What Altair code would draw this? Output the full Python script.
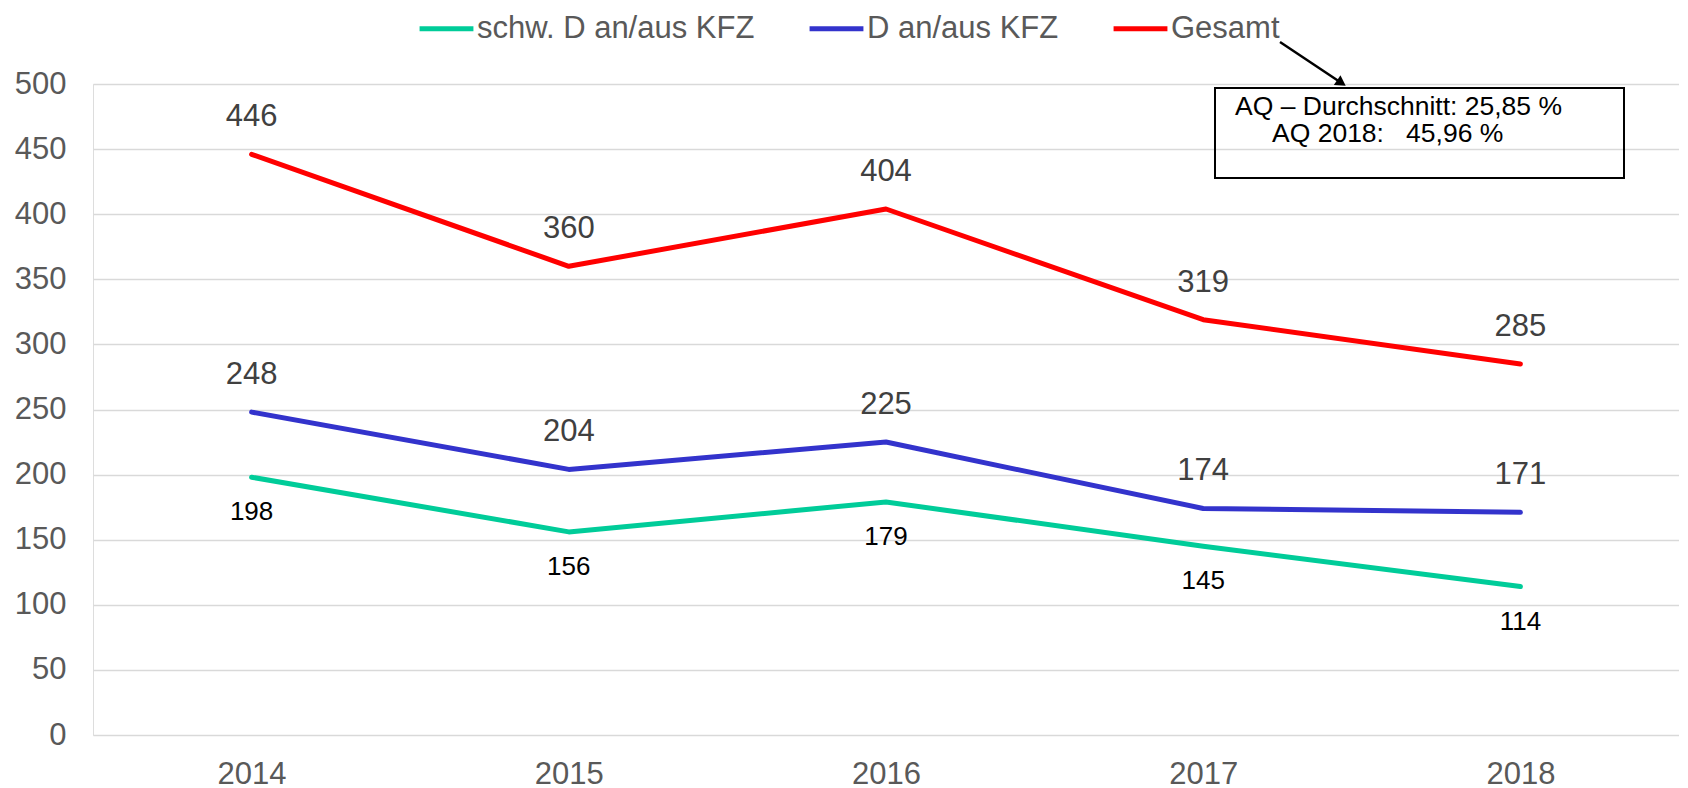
import altair as alt
import pandas as pd

years = ["2014", "2015", "2016", "2017", "2018"]
schw = [198, 156, 179, 145, 114]
d_kfz = [248, 204, 225, 174, 171]
gesamt = [446, 360, 404, 319, 285]
series_names = ["schw. D an/aus KFZ", "D an/aus KFZ", "Gesamt"]
series_colors = ["#00CC99", "#3333CC", "#FF0000"]
y_ticks = [0, 50, 100, 150, 200, 250, 300, 350, 400, 450, 500]
box_lines = ["AQ \u2013 Durchschnitt: 25,85 %", "AQ 2018:\u00a0\u00a0\u00a045,96 %"]

rows = []
for name, vals in zip(series_names, [schw, d_kfz, gesamt]):
    for yr, v in zip(years, vals):
        rows.append({"year": yr, "value": v, "series": name})
df = pd.DataFrame(rows)

FONT = "Liberation Sans"

x_enc = alt.X("year:O", title=None, sort=years,
              axis=alt.Axis(labelAngle=0, labelFontSize=31, labelColor="#595959",
                            labelFont=FONT, ticks=False, domain=False, grid=False,
                            labelPadding=24))
y_enc = alt.Y("value:Q", title=None,
              scale=alt.Scale(domain=[0, 500], nice=False),
              axis=alt.Axis(values=y_ticks, labelFontSize=31, labelColor="#595959",
                            labelFont=FONT, ticks=False, tickSize=0, domain=False,
                            grid=True, gridColor="#D9D9D9", gridWidth=1.5,
                            labelPadding=27))

base = alt.Chart(df)

lines = base.mark_line(strokeWidth=5, strokeCap="round", strokeJoin="round").encode(
    x=x_enc, y=y_enc,
    color=alt.Color("series:N", sort=series_names,
                    scale=alt.Scale(domain=series_names, range=series_colors),
                    legend=alt.Legend(title=None, orient="none", legendX=324, legendY=-85,
                                      direction="horizontal", symbolType="stroke",
                                      symbolStrokeWidth=5, symbolSize=2900,
                                      labelFontSize=31, labelFont=FONT,
                                      labelColor="#595959", labelOffset=1,
                                      columnPadding=44, labelLimit=0, padding=0)),
    order=alt.Order("year:O"),
)

upper = base.transform_filter(alt.datum.series != "schw. D an/aus KFZ").mark_text(
    fontSize=31, font=FONT, color="#404040", dy=-37, baseline="middle"
).encode(x=alt.X("year:O", sort=years), y="value:Q", text="value:Q")

lower = base.transform_filter(alt.datum.series == "schw. D an/aus KFZ").mark_text(
    fontSize=26, font=FONT, color="#000000", dy=35, baseline="middle"
).encode(x=alt.X("year:O", sort=years), y="value:Q", text="value:Q")

box_df = pd.DataFrame({"line": box_lines, "i": [0, 1]})

box = alt.Chart(pd.DataFrame({"k": [0]})).mark_rect(
    filled=False, stroke="black", strokeWidth=2
).encode(x=alt.value(1122), x2=alt.value(1531), y=alt.value(4), y2=alt.value(94))

box_text1 = alt.Chart(box_df.iloc[[0]]).mark_text(
    align="left", baseline="alphabetic", fontSize=26.5, font=FONT, color="black"
).encode(x=alt.value(1142), y=alt.value(31), text="line:N")

box_text2 = alt.Chart(box_df.iloc[[1]]).mark_text(
    align="left", baseline="alphabetic", fontSize=26.5, font=FONT, color="black"
).encode(x=alt.value(1179), y=alt.value(58), text="line:N")

arrow_line = alt.Chart(pd.DataFrame({"k": [0]})).mark_rule(
    stroke="black", strokeWidth=2.5
).encode(x=alt.value(1187), y=alt.value(-42), x2=alt.value(1247), y2=alt.value(-2))

arrow_head = alt.Chart(pd.DataFrame({"k": [0]})).mark_point(
    shape="triangle", angle=124, size=140, filled=True, color="black", opacity=1
).encode(x=alt.value(1247), y=alt.value(-2))

chart = alt.layer(lines, upper, lower, box, box_text1, box_text2, arrow_line, arrow_head).properties(
    width=1586, height=651,
    autosize=alt.AutoSizeParams(type="none"),
    padding={"left": 85, "top": 76, "right": 0, "bottom": 60},
).configure_view(stroke=None).configure(font=FONT)

chart.save("out.html", embed_options={"renderer": "svg", "actions": False})
